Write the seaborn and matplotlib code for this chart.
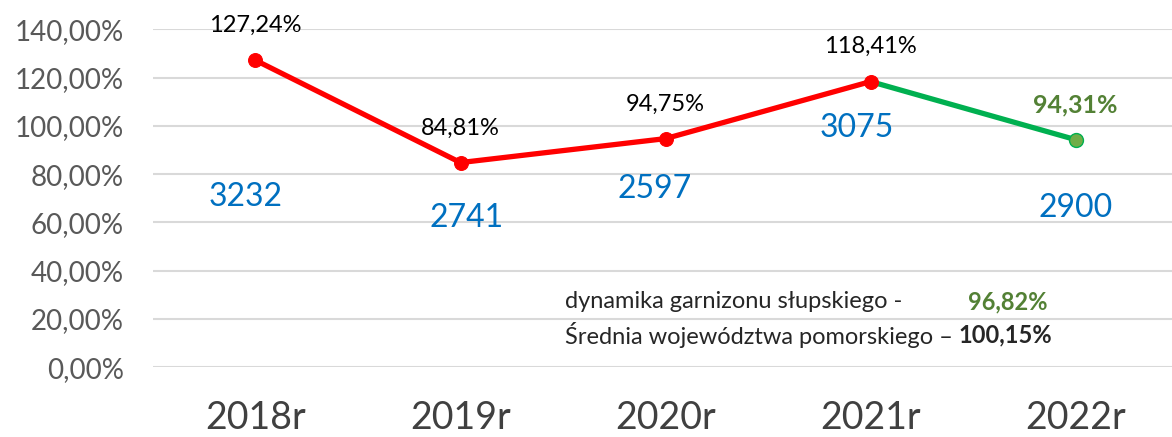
import seaborn as sns
import matplotlib.pyplot as plt
import pandas as pd

# data
years = ['2018r', '2019r', '2020r', '2021r', '2022r']
dynamics = [127.24, 84.81, 94.75, 118.41, 94.31]
counts = [3232, 2741, 2597, 3075, 2900]
# where the count labels sit (manually placed in the original)
count_label_y = [70.5, 62.0, 74.0, 99.0, 66.0]
count_label_dx = [-0.05, 0.03, -0.055, -0.065, 0.0]
garrison_avg = '96,82%'
region_avg = '100,15%'

sns.set_theme(style='white')
plt.rcParams['font.family'] = ['Lato', 'DejaVu Sans']

df = pd.DataFrame({'pos': range(len(years)), 'year': years, 'dyn': dynamics})

fig = plt.figure(figsize=(11.72, 4.37), dpi=100)
ax = fig.add_axes([0.1305, 0.160, 0.8695, 0.7725])

# red part 2018-2021, green segment 2021-2022
red = df.iloc[:4]
green = df.iloc[3:]
sns.lineplot(data=green, x='pos', y='dyn', color='#00B050', linewidth=3.8, ax=ax)
sns.lineplot(data=red, x='pos', y='dyn', color='#FF0000', linewidth=3.8,
             marker='o', markersize=10, markeredgecolor='#FF0000', ax=ax)
ax.plot(df['pos'].iloc[-1], df['dyn'].iloc[-1], 'o', color='#70AD47',
        markeredgecolor='#00B050', markersize=10, zorder=5)

# labels
for i, (v, c, cy, dx) in enumerate(zip(dynamics, counts, count_label_y, count_label_dx)):
    txt = f'{v:.2f}%'.replace('.', ',')
    last = i == len(dynamics) - 1
    ax.annotate(txt, (i, v), xytext=(0, 25), textcoords='offset points',
                ha='center', va='center', fontsize=18 if last else 17,
                color='#538135' if last else 'black',
                fontweight='bold' if last else 'normal')
    ax.text(i + dx, cy, str(c), ha='center', va='center', fontsize=23, color='#0070C0')

ax.set_xlim(-0.5, 4.47)
ax.set_ylim(0, 140)
ax.set_yticks(range(0, 141, 20))
ax.set_yticklabels([f'{t},00%' for t in range(0, 141, 20)])
ax.set_xticks(df['pos'])
ax.set_xticklabels(years)
ax.tick_params(axis='y', labelsize=20, labelcolor='#595959', length=0, pad=21)
ax.tick_params(axis='x', labelsize=27, labelcolor='#404040', length=0, pad=24)
ax.set_xlabel('')
ax.set_ylabel('')
ax.grid(axis='y', color='#D9D9D9', linewidth=1.5)
ax.set_axisbelow(True)
for s in ax.spines.values():
    s.set_visible(False)

# summary text
fig.text(0.482, 0.309, 'dynamika garnizonu słupskiego -', fontsize=17,
         ha='left', va='center', color='#262626')
fig.text(0.894, 0.309, garrison_avg, fontsize=17, ha='right', va='center',
         color='#538135', fontweight='bold')
t = fig.text(0.482, 0.233, 'Średnia województwa pomorskiego – ', fontsize=17,
             ha='left', va='center', color='#262626')
ax.annotate(region_avg, xy=(1, 0.5), xycoords=t, ha='left', va='center',
            fontsize=17, fontweight='bold', color='#262626')

fig.savefig('out.png', dpi=100)
